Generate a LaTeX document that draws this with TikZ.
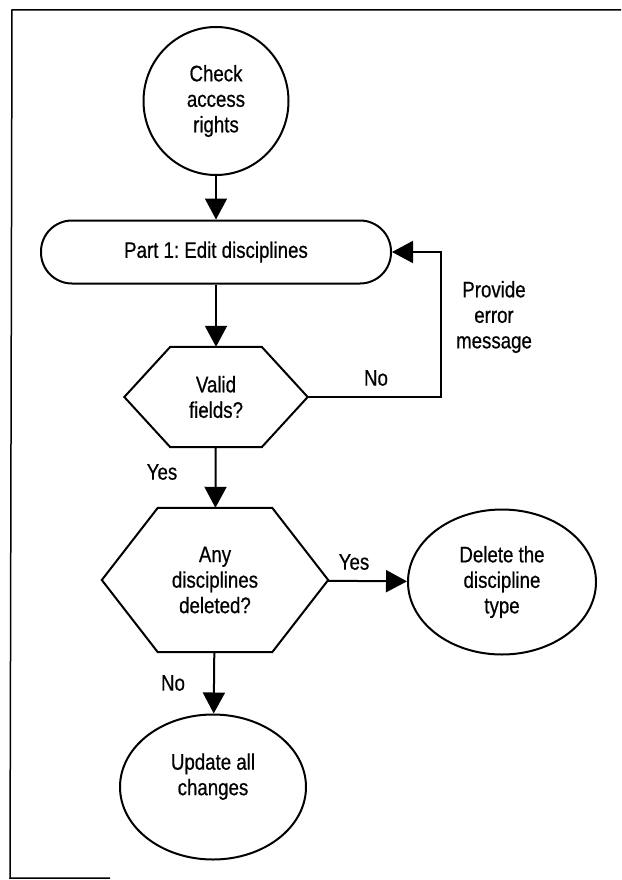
\documentclass[tikz,border=0pt]{standalone}
\usepackage{fontspec}
\setmainfont{Liberation Sans}[FakeStretch=0.83,FakeBold=0.6]
\usepackage{tikz}
\usetikzlibrary{shapes.geometric,arrows.meta}

\begin{document}
\begin{tikzpicture}[x=1pt,y=-1pt,
    every node/.style={font=\fontsize{22.5}{25.5}\selectfont\frenchspacing,align=center},
    line/.style={line width=2pt},
    arrow/.style={line width=2pt,-{Triangle[length=21pt,width=22pt]}},
    oval/.style={draw,line width=2pt,ellipse,inner sep=0pt},
    test/.style={inner sep=0pt}]
    \useasboundingbox (0,0) rectangle (621,880);

    % Frame of the scanned page
    \draw[line width=1.5pt] (621,10) -- (12,10) -- (10,878) -- (110,878);

    % Main column
    \node[oval,minimum width=145pt,minimum height=148pt] (check) at (216,101) {Check\\access\\rights};
    \node[draw,line width=2pt,rounded corners=31pt,minimum width=350pt,minimum height=63pt] (part) at (216,252) {Part 1: Edit disciplines};
    \node[test,minimum width=183pt,minimum height=100pt] (valid) at (216,397) {Valid\\fields?};
    \node[test,minimum width=226pt,minimum height=144pt] (anydel) at (215,580) {Any\\disciplines\\deleted?};
    \node[oval,minimum width=186pt,minimum height=145pt] (update) at (213,787) {Update all\\changes\\\mbox{}};
    \node[oval,minimum width=188pt,minimum height=145pt] (delete) at (502,582) {Delete the\\discipline\\type};

    % Hexagon outlines round the two tests
    \foreach \h/\s in {valid/46,anydel/56} {
        \draw[line,line join=miter] ([xshift=\s pt]\h.north west) -- ([xshift=-\s pt]\h.north east) -- (\h.east)
            -- ([xshift=-\s pt]\h.south east) -- ([xshift=\s pt]\h.south west) -- (\h.west) -- cycle;
    }

    % Connecting arrows
    \draw[arrow] (check) -- (part);
    \draw[arrow] (part) -- (valid);
    \draw[arrow] (valid) -- (anydel);
    \draw[arrow] (anydel) -- (update);
    \draw[arrow] (anydel) -- (delete);
    \coordinate (loop) at (441,397);
    \draw[arrow] (valid.east) -- (loop) |- (part.east);

    % Labels
    \node (error) at (494,317) {Provide\\error\\message};
    \node (no1) at (376,378) {No};
    \node (yes1) at (162,472) {Yes};
    \node (yes2) at (354,562) {Yes};
    \node (no2) at (173,683) {No};
\end{tikzpicture}
\end{document}
